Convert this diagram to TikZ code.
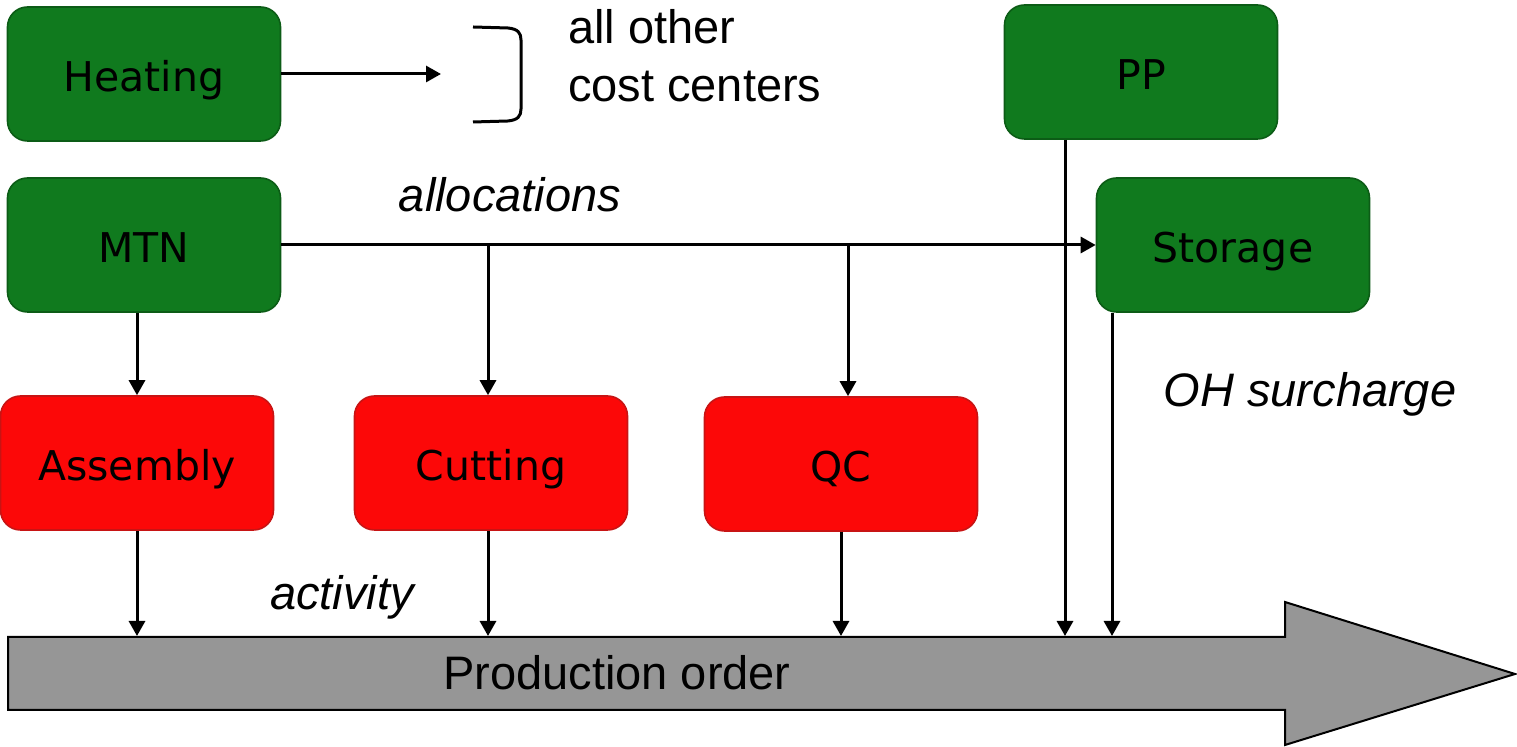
\documentclass[tikz,border=0pt]{standalone}
\usepackage{fontspec}
\setmainfont{Liberation Sans}
\newfontfamily\boxfont{DejaVu Sans}
\usetikzlibrary{arrows.meta,calc}
\definecolor{cgreen}{RGB}{16,122,30}
\definecolor{cgreenD}{RGB}{12,92,22}
\definecolor{cred}{RGB}{252,8,8}
\definecolor{credD}{RGB}{200,20,20}
\definecolor{cgray}{RGB}{150,150,150}
\begin{document}
\begin{tikzpicture}[x=0.5pt,y=-0.5pt,
 box/.style={rounded corners=10pt, minimum width=136.5pt, minimum height=67pt, font=\boxfont\fontsize{20.5}{24}\selectfont, inner sep=0pt, text height=17.5pt, text depth=0pt},
 gbox/.style={box, fill=cgreen, draw=cgreenD, line width=0.8pt},
 rbox/.style={box, fill=cred, draw=credD, line width=0.8pt},
 arr/.style={line width=1.5pt, -{Triangle[length=7.5pt,width=8pt]}},
 lbl/.style={font=\fontsize{23.5}{29}\selectfont\itshape},
 txt/.style={font=\fontsize{23.5}{29}\selectfont}]
\useasboundingbox (0,0) rectangle (1517,747);

% production order arrow
\draw[fill=cgray, line width=1pt] (8,637) -- (1285,637) -- (1285,602) -- (1515,674) -- (1285,745) -- (1285,710) -- (8,710) -- cycle;
\node[txt] (po) at (617,673) {Production order};
\coordinate (potop) at (0,636);

% boxes
\node[gbox] (heat) at (144,74) {Heating};
\node[gbox] (mtn) at (144,245) {MTN};
\node[gbox] (pp) at (1141,72) {PP};
\node[gbox] (sto) at (1233,245) {Storage};
\node[rbox] (asm) at (137,463) {Assembly};
\node[rbox] (cut) at (491,463) {Cutting};
\node[rbox] (qc) at (841,464) {QC};

% heating arrow and bracket
\coordinate (hend) at (441,74);
\draw[arr] (heat.east) -- (hend);
\draw[line width=1.5pt] (473,27) -- (508,28) .. controls (518,29) and (521,33) .. (521,40) -- (521,109) .. controls (521,116) and (518,120) .. (508,121) -- (473,122);
\node[txt, align=left, anchor=west] (oth) at (561,56) {all other\\cost centers};

% allocations
\draw[arr] (mtn.east) -- (sto.west);
\draw[arr] ([xshift=-1.5pt]cut.north |- mtn.east) -- ([xshift=-1.5pt]cut.north);
\draw[arr] ([xshift=3.5pt]qc.north |- mtn.east) -- ([xshift=3.5pt]qc.north);
\draw[arr] (asm.north |- mtn.south) -- (asm.north);
\node[lbl] (alloc) at (510,195) {allocations};

% activity
\draw[arr] (asm.south) -- (asm.south |- potop);
\draw[arr] ([xshift=-1.5pt]cut.south) -- ([xshift=-1.5pt]cut.south |- potop);
\draw[arr] (qc.south) -- (qc.south |- potop);
\node[lbl] (act) at (342,597) {activity};

% OH surcharge
\draw[arr] ([xshift=-38pt]pp.south) -- ([xshift=-38pt]pp.south |- potop);
\draw[arr] ([xshift=-60.5pt]sto.south) -- ([xshift=-60.5pt]sto.south |- potop);
\node[lbl] (oh) at (1310,394) {OH surcharge};
\end{tikzpicture}
\end{document}
